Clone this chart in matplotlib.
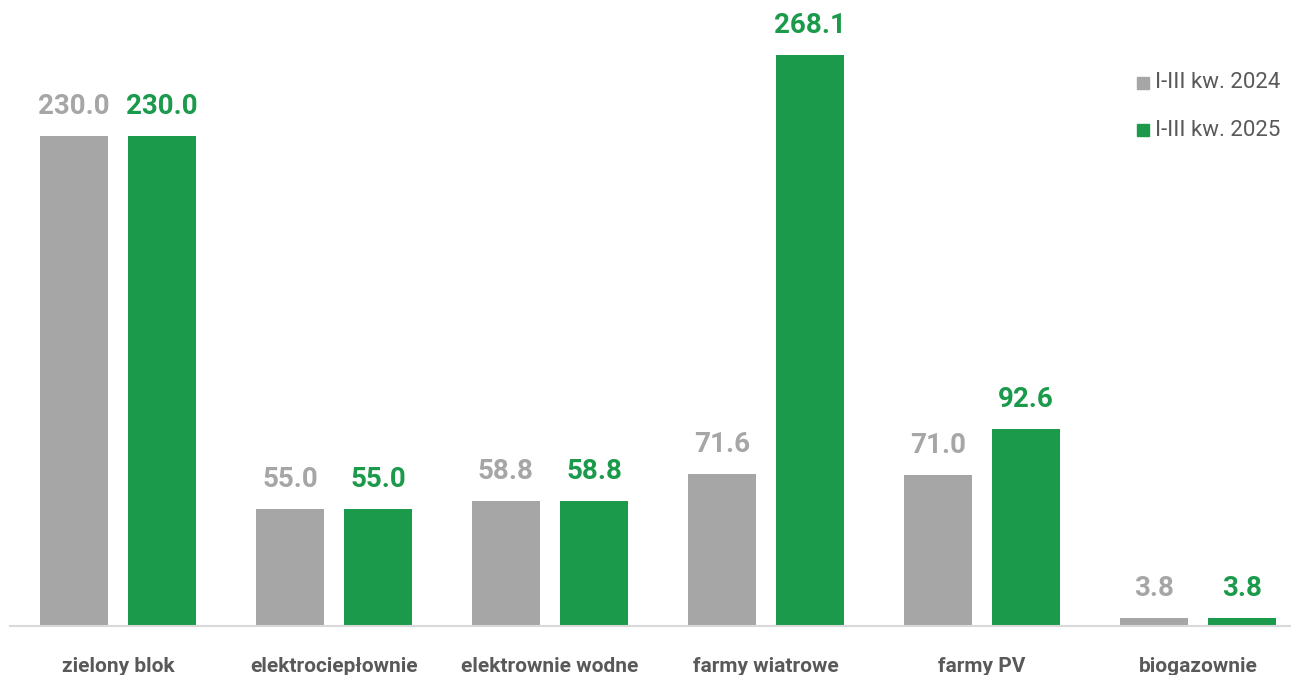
import numpy as np
import matplotlib.pyplot as plt
from matplotlib.patches import Rectangle

# data
categories = ['zielony blok', 'elektrociepłownie', 'elektrownie wodne',
              'farmy wiatrowe', 'farmy PV', 'biogazownie']
series_names = ['I-III kw. 2024', 'I-III kw. 2025']
vals_2024 = [230.0, 55.0, 58.8, 71.6, 71.0, 3.8]
vals_2025 = [230.0, 55.0, 58.8, 268.1, 92.6, 3.8]

gray = '#a6a6a6'
green = '#1a9a4a'
txt = '#595959'

plt.rcParams['font.family'] = ['Roboto', 'DejaVu Sans']

fig = plt.figure(figsize=(12.91, 6.75), dpi=100)
ax = fig.add_axes([10 / 1291, 49 / 675, 1281 / 1291, 626 / 675])

x = np.arange(len(categories))
w = 0.315
off = 0.204
b1 = ax.bar(x - off, vals_2024, w, color=gray)
b2 = ax.bar(x + off, vals_2025, w, color=green)

for bars, vals, c in [(b1, vals_2024, gray), (b2, vals_2025, green)]:
    for r, v in zip(bars, vals):
        ax.text(r.get_x() + r.get_width() / 2, v + 7.5, '%.1f' % v,
                ha='center', va='bottom', fontsize=20, fontweight='bold', color=c)

ax.set_xlim(-0.5, 5.43)
ax.set_ylim(0, 294)
ax.set_xticks(x)
ax.set_xticklabels(categories, fontsize=15, fontweight='bold', color=txt)
ax.tick_params(axis='x', length=0, pad=22)
ax.set_yticks([])
for s in ['top', 'right', 'left']:
    ax.spines[s].set_visible(False)
ax.spines['bottom'].set_color('#d9d9d9')
ax.spines['bottom'].set_linewidth(1.5)

# legend
for i, (name, c) in enumerate(zip(series_names, [gray, green])):
    yy = 1 - (83 + 47 * i) / 675
    fig.patches.append(Rectangle((1137 / 1291, yy - 6 / 675), 12 / 1291, 12 / 675,
                                 transform=fig.transFigure, color=c))
    fig.text(1155 / 1291, yy, name, fontsize=16, color=txt, va='center', ha='left')

fig.savefig('out.png', dpi=100)
